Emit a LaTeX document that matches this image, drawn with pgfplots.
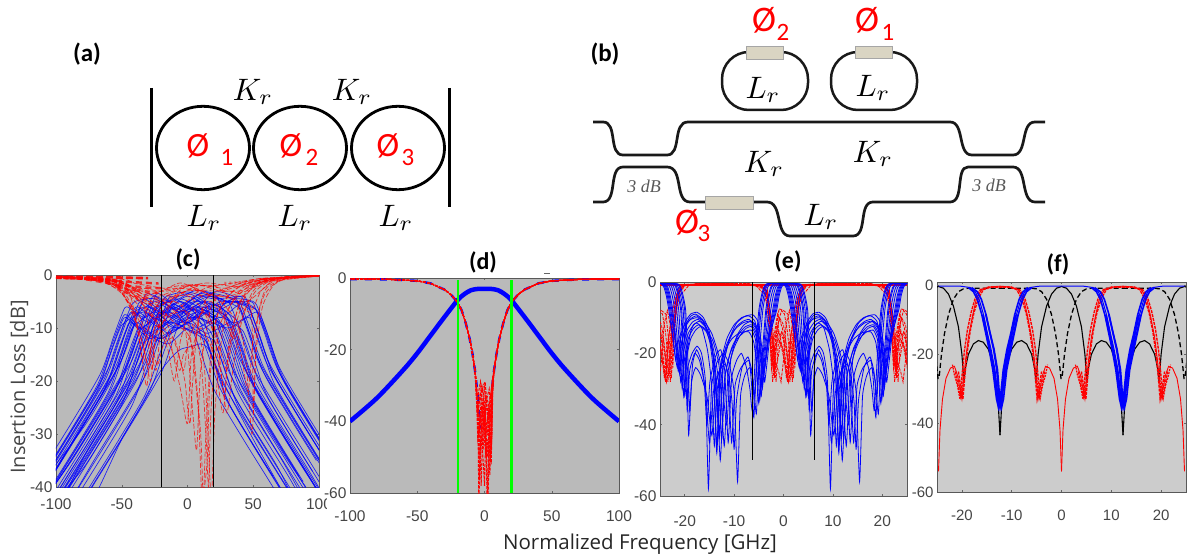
\documentclass[border=0pt]{standalone}
\usepackage{fontspec}
\usepackage{pgfplots}
\pgfplotsset{compat=1.18}
\setmainfont{Liberation Sans}
\newfontfamily\lab{Carlito}
\newfontfamily\seg{Open Sans}
\newfontfamily\sr{Liberation Serif}
\definecolor{heater}{HTML}{DAD5C3}
\definecolor{tk}{HTML}{454545}
\pgfplotsset{panel/.style={scale only axis,anchor=south west,
  axis background/.style={fill=#1},grid=major,
  grid style={draw=black!38!#1,line width=.8pt},
  axis line style={draw=black!65,line width=.8pt},
  tick style={draw=black!60,line width=.5pt},major tick length=2pt,tick align=inside,
  /pgf/number format/assume math mode=true,
  tick label style={font=\fontsize{15.5}{16}\selectfont,text=tk},
  xticklabel style={yshift=-8pt}}}
\newcommand\cbl[1]{\addplot[blue,line width=.65pt,opacity=.85,smooth,tension=.45] coordinates{#1};}
\newcommand\crd[1]{\addplot[red,line width=.7pt,opacity=.75,dash pattern=on 5pt off 2pt,smooth,tension=.4] coordinates{#1};}
\newcommand\dred[1]{\addplot[red,line width=1pt,dash pattern=on 3pt off 1.2pt] coordinates{(-105,-.2)(-70,-.4)(-50,-.8)(-40,-1.5)(-30,-3.2)(-25,-4.6)(-20,-6.8)(-17,-9)(-14,-12.5)(-11,-17)(-9,-21)(-7,-26)#1(7,-26)(9,-21)(11,-17)(14,-12.5)(17,-9)(20,-6.8)(25,-4.6)(30,-3.2)(40,-1.5)(50,-.8)(70,-.4)(105,-.2)};}
\newcommand\eb[1]{\addplot[blue,line width=.8pt,smooth,tension=.3] coordinates{#1};\addplot[blue,line width=.8pt,smooth,tension=.3,x filter/.expression={x+24.7}] coordinates{#1};}
\newcommand\er[1]{\addplot[red,line width=.85pt,dash pattern=on 3pt off 1.2pt,x filter/.expression={x-24.7}] coordinates{(-12.4,-.5)(-7,-.6)#1(7,-.6)(12.4,-.5)};\addplot[red,line width=.85pt,dash pattern=on 3pt off 1.2pt] coordinates{(-12.4,-.5)(-7,-.6)#1(7,-.6)(12.4,-.5)};\addplot[red,line width=.85pt,dash pattern=on 3pt off 1.2pt,x filter/.expression={x+24.7}] coordinates{(-12.4,-.5)(-7,-.6)#1(7,-.6)(12.4,-.5)};}
\newcommand\ftwo[2]{\addplot[#1] coordinates{#2};\addplot[#1,x filter/.expression={x-24.7}] coordinates{#2};}
\newcommand\fthree[2]{\addplot[#1,x filter/.expression={x-24.7}] coordinates{#2};\addplot[#1] coordinates{#2};\addplot[#1,x filter/.expression={x+24.7}] coordinates{#2};}
\newcommand\mm[1]{\scalebox{3.1}{$#1$}}
\begin{document}
\begin{tikzpicture}
\path[use as bounding box] (0pt,0pt) rectangle (1194pt,-559pt);
% ---------- (c)
\begin{axis}[panel=black!27,at={(56pt,-487pt)},width=263pt,height=212pt,xmin=-100,xmax=100,ymin=-40,ymax=0,
  xtick={-100,-50,0,50,100},ytick={0,-10,-20,-30,-40}]
\cbl{(-107,-37)(-87,-29)(-67,-20.5)(-57,-13.5)(-51,-9.5)(-47,-8)(-35,-10)(-20,-7)(-5,-9)(10,-6.5)(22,-8)(26,-9.5)(32,-13.5)(42,-20.5)(62,-29)(82,-37)(102,-45)}
\cbl{(-102,-36)(-82,-28)(-62,-19.5)(-52,-12.5)(-46,-8.5)(-42,-7)(-28,-9)(-12,-6)(5,-8)(18,-5.5)(30,-7)(34,-8.5)(40,-12.5)(50,-19.5)(70,-28)(90,-36)(102,-41)}
\cbl{(-108,-39)(-98,-35)(-78,-27)(-58,-18.5)(-48,-11.5)(-42,-7.5)(-38,-6)(-22,-8.5)(-5,-5)(15,-9)(30,-5)(45,-6)(49,-7.5)(55,-11.5)(65,-18.5)(85,-27)(105,-35)}
\cbl{(-105,-39)(-75,-26)(-55,-17.5)(-45,-10.5)(-39,-6.5)(-35,-5)(-20,-7)(0,-4)(20,-6.5)(35,-4.5)(50,-5)(54,-6.5)(60,-10.5)(70,-17.5)(90,-26)(110,-34)}
\cbl{(-112,-41.5)(-92,-33.5)(-72,-25.5)(-52,-17)(-42,-10)(-36,-6)(-32,-4.5)(-18,-7)(0,-5)(18,-3.5)(35,-4.5)(39,-6)(45,-10)(55,-17)(75,-25.5)(95,-33.5)(115,-41)}
\cbl{(-110,-43)(-90,-35.5)(-70,-27.5)(-50,-19)(-40,-12)(-34,-8)(-30,-6.5)(-15,-9)(5,-6)(25,-8)(40,-5.5)(52,-6.5)(56,-8)(62,-12)(72,-19)(92,-27.5)(112,-35.5)}
\cbl{(-108,-42)(-88,-35)(-68,-27)(-48,-18.5)(-38,-11.5)(-32,-7.5)(-28,-6)(-12,-8)(5,-5)(25,-6)(29,-7.5)(35,-11.5)(45,-18.5)(65,-27)(85,-35)(105,-43)}
\cbl{(-105,-41)(-85,-33)(-65,-25)(-45,-16.5)(-35,-9.5)(-29,-5.5)(-25,-4)(-8,-6.5)(10,-3.5)(28,-5)(40,-4)(44,-5.5)(50,-9.5)(60,-16.5)(80,-25)(100,-33)(120,-41)}
\cbl{(-102,-40)(-82,-32.5)(-62,-24.5)(-42,-16)(-32,-9)(-26,-5)(-22,-3.5)(-5,-6)(12,-3.2)(30,-5)(48,-5)(52,-6.5)(58,-10.5)(68,-17.5)(88,-26)(108,-34)}
\cbl{(-100,-42)(-80,-34)(-60,-26)(-40,-17.5)(-30,-10.5)(-24,-6.5)(-20,-5)(-5,-7)(12,-4)(30,-5)(34,-6.5)(40,-10.5)(50,-17.5)(70,-26)(90,-34)(105,-40)}
\cbl{(-98,-42)(-78,-36)(-58,-28)(-38,-19.5)(-28,-12.5)(-22,-8.5)(-18,-7)(0,-9)(18,-6.5)(35,-9)(52,-7)(56,-8.5)(62,-12.5)(72,-19.5)(92,-28)(112,-36)}
\cbl{(-95,-45)(-75,-37)(-55,-29)(-35,-20.5)(-25,-13.5)(-19,-9.5)(-15,-8)(3,-6.5)(20,-8)(24,-9.5)(30,-13.5)(40,-20.5)(60,-29)(80,-37)(90,-41)}
\cbl{(-92,-41)(-72,-33)(-52,-25)(-32,-16.5)(-22,-9.5)(-16,-5.5)(-12,-4)(5,-6.5)(20,-3.2)(35,-4)(39,-5.5)(45,-9.5)(55,-16.5)(75,-25)(95,-33)(105,-37)}
\cbl{(-90,-43)(-70,-34.5)(-50,-26.5)(-30,-18)(-20,-11)(-14,-7)(-10,-5.5)(8,-8)(25,-5)(44,-5.5)(48,-7)(54,-11)(64,-18)(84,-26.5)(104,-34.5)}
\cbl{(-88,-46)(-68,-38)(-48,-30)(-28,-21.5)(-18,-14.5)(-12,-10.5)(-8,-9)(8,-7)(25,-9)(29,-10.5)(35,-14.5)(45,-21.5)(65,-30)(85,-38)}
\cbl{(-116,-47)(-96,-39)(-76,-31)(-56,-22.5)(-46,-15.5)(-40,-11.5)(-36,-10)(-20,-12)(0,-8)(15,-10)(19,-11.5)(25,-15.5)(35,-22.5)(55,-31)(75,-39)(85,-43)}
\cbl{(-113,-48)(-93,-40)(-73,-32)(-53,-23.5)(-43,-16.5)(-37,-12.5)(-33,-11)(-15,-13)(0,-10)(10,-11)(14,-12.5)(20,-16.5)(30,-23.5)(50,-32)(70,-40)}
\cbl{(-106,-46)(-86,-38)(-66,-30)(-46,-21.5)(-36,-14.5)(-30,-10.5)(-26,-9)(-10,-6)(5,-9)(9,-10.5)(15,-14.5)(25,-21.5)(45,-30)(65,-38)}
\cbl{(-120,-46)(-100,-38.5)(-80,-30.5)(-60,-22)(-50,-15)(-44,-11)(-40,-9.5)(-25,-7)(-8,-10)(8,-8)(18,-9.5)(22,-11)(28,-15)(38,-22)(58,-30.5)(78,-38.5)(90,-44)}
\cbl{(-104,-36.5)(-84,-28.5)(-64,-20)(-54,-13)(-48,-9)(-44,-7.5)(-30,-6)(-12,-9)(8,-6)(28,-7.5)(32,-9)(38,-13)(48,-20)(68,-28.5)(88,-36.5)(100,-41)}
\cbl{(-80,-46)(-67,-40)(-50,-31)(-35,-24.5)(-23,-19)(-12,-15.5)(-5,-14)(3,-13.5)(10,-13)(16,-14)(25,-19)(35,-24)(50,-31)(68,-39)(80,-44)}
\cbl{(-96,-43)(-76,-33)(-56,-25)(-36,-16.5)(-26,-9.5)(-20,-5.5)(-16,-4)(0,-3.2)(20,-4.5)(42,-4)(46,-5.5)(52,-9.5)(62,-16.5)(82,-25)(102,-33)}
\cbl{(-104,-43)(-84,-35)(-64,-27)(-44,-18.5)(-34,-11.5)(-28,-7.5)(-24,-6)(-5,-4.5)(18,-7)(38,-5)(50,-6)(54,-7.5)(60,-11.5)(70,-18.5)(90,-27)(110,-35)}
\cbl{(-110,-49)(-90,-41)(-70,-33)(-50,-24.5)(-40,-17.5)(-34,-13.5)(-30,-12)(-12,-9)(12,-12)(16,-13.5)(22,-17.5)(32,-24.5)(52,-33)(72,-41)}
\cbl{(-80,-43)(-60,-35)(-40,-27)(-20,-18.5)(-10,-11.5)(-4,-7.5)(0,-6)(18,-4)(38,-6)(42,-7.5)(48,-11.5)(58,-18.5)(78,-27)(98,-35)}
\cbl{(-100,-44)(-80,-36)(-60,-28)(-40,-19.5)(-30,-12.5)(-24,-8.5)(-20,-7)(-6,-5)(8,-7)(12,-8.5)(18,-12.5)(28,-19.5)(48,-28)(68,-36)(80,-42)}
\cbl{(-108,-37)(-88,-29)(-68,-20.5)(-58,-13.5)(-52,-9.5)(-48,-7.5)(-44,-8)(-30,-11)(-10,-8)(15,-5)(35,-8)(39,-9.5)(45,-13.5)(55,-20.5)(75,-29)(95,-37)}
\cbl{(-110,-43)(-98,-38)(-78,-30)(-58,-21.5)(-48,-14.5)(-42,-10.5)(-38,-9)(-20,-12)(0,-9)(15,-11)(32,-9)(36,-10.5)(42,-14.5)(52,-21.5)(72,-30)(92,-38)(102,-42)}
\cbl{(-106,-35)(-86,-27)(-66,-18.5)(-56,-11.5)(-50,-7.5)(-46,-6)(-32,-8)(-15,-5)(0,-9)(12,-6)(16,-7.5)(22,-11.5)(32,-18.5)(52,-27)(72,-35)(90,-43)}
\cbl{(-103,-38)(-83,-30)(-63,-21.5)(-53,-14.5)(-47,-10.5)(-43,-9)(-28,-12)(-10,-9)(5,-11)(20,-9)(24,-10.5)(30,-14.5)(40,-21.5)(60,-30)(80,-38)(90,-42)}
\cbl{(-110,-38)(-100,-34)(-80,-26)(-60,-17.5)(-50,-10.5)(-44,-6.5)(-40,-5)(-25,-4.5)(-5,-7)(15,-6)(38,-5)(42,-6.5)(48,-10.5)(58,-17.5)(78,-26)(98,-34)(110,-39)}
\cbl{(-107,-38)(-77,-28)(-57,-19.5)(-47,-12.5)(-41,-8.5)(-37,-7)(-20,-10)(-5,-6)(5,-7)(9,-8.5)(15,-12.5)(25,-19.5)(45,-28)(65,-36)(80,-42)}
\cbl{(-114,-47)(-94,-39)(-74,-31)(-54,-22.5)(-44,-15.5)(-38,-11.5)(-34,-10)(-15,-7)(5,-10)(25,-8)(40,-10)(44,-11.5)(50,-15.5)(60,-22.5)(80,-31)(100,-39)}
\cbl{(-110,-40.5)(-90,-32.5)(-70,-24.5)(-50,-16)(-40,-9)(-34,-5)(-30,-3.5)(-12,-5)(5,-3)(20,-3.5)(24,-5)(30,-9)(40,-16)(60,-24.5)(80,-32.5)(100,-40.5)}
\cbl{(-106,-45)(-86,-37)(-66,-29)(-46,-20.5)(-36,-13.5)(-30,-9.5)(-26,-8)(-8,-10)(12,-7)(30,-10)(46,-8)(50,-9.5)(56,-13.5)(66,-20.5)(86,-29)(106,-37)}
\cbl{(-98,-42)(-78,-34.5)(-58,-26.5)(-38,-18)(-28,-11)(-22,-7)(-18,-5.5)(0,-3.5)(15,-5.5)(19,-7)(25,-11)(35,-18)(55,-26.5)(75,-34.5)(90,-40)}
\cbl{(-92,-47)(-72,-39)(-52,-31)(-32,-22.5)(-22,-15.5)(-16,-11.5)(-12,-10)(5,-8)(28,-10)(32,-11.5)(38,-15.5)(48,-22.5)(68,-31)(88,-39)}
\cbl{(-102,-49)(-82,-41)(-62,-33)(-42,-24.5)(-32,-17.5)(-26,-13.5)(-22,-12)(-5,-10)(18,-12)(22,-13.5)(28,-17.5)(38,-24.5)(58,-33)(78,-41)}
\cbl{(-108,-38)(-88,-30)(-68,-21.5)(-58,-14.5)(-52,-10.5)(-48,-9)(-32,-7)(-15,-11)(0,-9)(4,-10.5)(10,-14.5)(20,-21.5)(40,-30)(60,-38)(75,-44)}
\cbl{(-111,-44)(-101,-37)(-81,-29)(-61,-20.5)(-51,-13.5)(-45,-9.5)(-41,-8)(-24,-5)(-6,-8)(12,-5)(30,-8)(34,-9.5)(40,-13.5)(50,-20.5)(70,-29)(90,-37)(102,-42)}
\crd{(-105,-.2)(-75,-.6)(-60,-1.4)(-50,-3)(-44,-6)(-38,-10)(-33,-14)(-28,-20)(-25,-13)(-18,-7)(-5,-3.5)(10,-2)(25,-3)(40,-2)(55,-1)(70,-.5)(105,-.1)}
\crd{(-105,-.3)(-70,-.8)(-55,-2)(-47,-4.5)(-40,-8)(-35,-15)(-31,-21)(-27,-12)(-20,-6)(-8,-4)(6,-2.5)(22,-5)(35,-12)(40,-9)(50,-3)(65,-.9)(105,-.1)}
\crd{(-105,-.4)(-72,-.7)(-62,-1.2)(-52,-2.5)(-46,-5)(-38,-7)(-30,-12)(-24,-18)(-20,-10)(-10,-4)(2,-2)(15,-6)(25,-18)(30,-26)(35,-17)(42,-8)(52,-3)(68,-.7)(105,-.1)}
\crd{(-105,-.3)(-60,-1)(-45,-3)(-32,-5)(-18,-8)(-8,-14)(-2,-20)(0,-25)(2,-28)(4,-20)(8,-9)(16,-4)(30,-2.5)(50,-1)(105,-.1)}
\crd{(-105,-.2)(-58,-1.5)(-42,-4)(-28,-7)(-14,-13)(-6,-18)(-3,-15)(4,-14)(10,-30)(12,-42)(14,-30)(18,-14)(25,-6)(40,-2)(60,-.8)(105,-.1)}
\crd{(-105,-.3)(-65,-.9)(-48,-2.5)(-35,-4)(-25,-6)(-10,-5)(0,-8)(8,-25)(11,-42)(15,-35)(17,-20)(22,-8)(35,-3)(55,-1)(105,-.1)}
\crd{(-105,-.2)(-68,-.6)(-50,-1.8)(-36,-5)(-24,-9)(-15,-14)(-10,-20)(-5,-12)(5,-6)(13,-18)(18,-42)(21,-25)(28,-9)(45,-2)(105,-.1)}
\crd{(-105,-.2)(-50,-1.5)(-30,-3.5)(-10,-2.5)(10,-3)(25,-5)(38,-9)(44,-15)(49,-30)(52,-15)(57,-6)(66,-1.8)(80,-.4)(105,-.1)}
\crd{(-105,-.3)(-55,-1.2)(-38,-3)(-22,-6)(-10,-9)(0,-11)(5,-14)(9,-8)(18,-5)(30,-9)(40,-14)(46,-22)(50,-12)(58,-4)(72,-.8)(105,-.1)}
\crd{(-105,-.4)(-62,-.9)(-42,-2.5)(-33,-6)(-28,-12)(-23,-17)(-18,-13)(-10,-12)(-3,-18)(1,-12)(12,-7)(22,-11)(28,-23)(31,-15)(40,-5)(58,-1.5)(105,-.1)}
\crd{(-105,-.2)(-65,-.5)(-50,-1.2)(-40,-2.5)(-30,-3)(-15,-3)(0,-2)(20,-2)(35,-1.5)(55,-.7)(105,-.1)}
\crd{(-105,-.3)(-68,-1)(-52,-2.8)(-42,-4)(-30,-5.5)(-15,-4.5)(0,-3)(20,-3)(40,-3)(55,-1.4)(75,-.3)(105,-.1)}
\crd{(-105,-.5)(-60,-1.3)(-46,-3.5)(-36,-6)(-25,-8)(-10,-7)(5,-4)(25,-4)(45,-5)(58,-2.5)(70,-.7)(105,-.1)}
\crd{(-105,-.3)(-55,-.9)(-44,-2)(-35,-3.5)(-22,-4)(-5,-2.5)(15,-1.5)(35,-2.2)(50,-1.8)(68,-.6)(105,-.1)}
\crd{(-105,-.6)(-70,-1)(-58,-2)(-48,-4)(-38,-8)(-30,-13)(-27,-18)(-24,-11)(-15,-8)(0,-7)(10,-16)(14,-30)(16,-40)(18,-25)(24,-10)(38,-4)(55,-1.2)(105,-.1)}
\crd{(-105,-.4)(-66,-.7)(-54,-1.6)(-44,-5)(-36,-11)(-30,-17)(-25,-10)(-15,-11)(-5,-22)(0,-28)(3,-15)(10,-10)(20,-15)(27,-26)(32,-12)(45,-3)(70,-.5)(105,-.1)}
\crd{(-105,-.2)(-60,-.7)(-45,-2.2)(-30,-5)(-18,-5)(-2,-10)(4,-26)(7,-33)(10,-18)(18,-6)(30,-3)(48,-6)(50,-26)(53,-9)(60,-2.5)(80,-.3)(105,-.1)}
\crd{(-105,-.4)(-62,-.8)(-52,-1.6)(-44,-3)(-34,-2.5)(-20,-3)(-5,-1.5)(15,-3.5)(30,-4)(45,-3)(60,-1)(105,-.1)}
\crd{(-105,-.6)(-58,-.9)(-46,-2)(-38,-4.5)(-26,-3.5)(-12,-4)(5,-3.5)(20,-2)(36,-5)(48,-7)(56,-3)(70,-.5)(105,-.1)}
\crd{(-105,-.5)(-50,-.8)(-40,-1.6)(-30,-2)(-18,-2.5)(-6,-2)(8,-1.8)(28,-2.5)(42,-1.4)(58,-.6)(105,-.1)}
\crd{(-105,-.7)(-54,-1.1)(-44,-3.5)(-38,-10)(-34,-16)(-31,-11)(-24,-6)(-8,-3)(10,-6)(22,-12)(30,-18)(34,-12)(44,-4)(60,-1)(105,-.1)}
\addplot[red,line width=2.6pt,opacity=.9,dash pattern=on 7pt off 3pt] coordinates{(-100,-.35)(-65,-.4)(-30,-.6)};
\addplot[red,line width=2.4pt,opacity=.8,dash pattern=on 6pt off 4pt] coordinates{(-100,-.5)(-70,-.8)(-45,-1.3)(-22,-1.6)};
\addplot[red,line width=2.4pt,opacity=.75,dash pattern=on 6pt off 4pt] coordinates{(-77.2,-.8)(-52,-1.9)(-30,-2.4)(-20,-2.5)};
\addplot[red,line width=2.2pt,opacity=.7,dash pattern=on 5pt off 5pt] coordinates{(-62,-1.4)(-45,-2.8)(-22,-3.4)};
\addplot[red,line width=2.2pt,opacity=.6,dash pattern=on 5pt off 5pt] coordinates{(-54.4,-2.2)(-38,-4.2)(-20,-4.5)};
\addplot[red,line width=3pt,opacity=.45,dash pattern=on 2pt off 3pt] coordinates{(28,-1.6)(62,-1.2)};
\addplot[red,line width=1.3pt] coordinates{(55,-.8)(70,-.5)(100,-.2)};
\addplot[black,line width=1pt] coordinates{(-20,0)(-20,-40)};
\addplot[black,line width=1pt] coordinates{(20,0)(20,-40)};
\end{axis}
\fill[white] (327pt,-492pt) rectangle (335pt,-516pt);
% ---------- (d)
\begin{axis}[panel=black!27,at={(350pt,-493pt)},width=269pt,height=215pt,xmin=-100,xmax=100,ymin=-60,ymax=0,
  xtick={-100,-50,0,50,100},ytick={0,-20,-40,-60},xticklabel style={yshift=-6pt}]
\addplot[blue,line width=4.5pt,smooth] coordinates{(-100,-40)(-80,-33.5)(-60,-25.5)(-50,-21)(-40,-16)(-30,-11)(-20,-6.2)(-15,-4.5)(-10,-3.4)(-5,-3.05)(0,-3)(5,-3.05)(10,-3.4)(15,-4.5)(20,-6.2)(30,-11)(40,-16)(50,-21)(60,-25.5)(80,-33.5)(100,-40)};
\addplot[blue,line width=2.4pt,dash pattern=on 7pt off 8pt] coordinates{(-100,-.3)(-70,-.4)(-50,-.8)(-40,-1.5)(-30,-3.2)(-25,-4.6)(-20,-6.8)(-17,-9)(-14,-12.5)(-11,-17)(-9,-21)(-7,-26)(-5,-33)(-3,-42)};
\addplot[blue,line width=2.4pt,dash pattern=on 7pt off 8pt] coordinates{(100,-.3)(70,-.4)(50,-.8)(40,-1.5)(30,-3.2)(25,-4.6)(20,-6.8)(17,-9)(14,-12.5)(11,-17)(9,-21)(7,-26)(5,-33)};
\dred{(-6,-30)(-5,-36)(-4.2,-63)(-3,-45)(-1.5,-38)(0,-30)(1.5,-36)(3,-42)(4.5,-33)(6,-28)}
\dred{(-6,-32)(-4.5,-44)(-3,-38)(-1,-48)(.5,-36)(2,-63)(3.5,-44)(5,-34)(6,-28)}
\dred{(-5.5,-33)(-4,-42)(-2.5,-34)(-1,-30)(.5,-29)(2,-36)(3.5,-48)(5,-52)(6,-32)}
\dred{(-5.5,-35)(-4,-50)(-2,-44)(0,-58)(1,-42)(3,-38)(5,-40)(6,-30)}
\dred{(-6,-34)(-4.5,-38)(-3,-50)(-1.5,-42)(0,-36)(2,-44)(3.5,-36)(5,-48)(6,-30)}
\dred{(-6,-30)(-5,-40)(-3.5,-33)(-2,-30)(-.5,-33)(1,-40)(2.5,-63)(4,-42)(6,-30)}
\dred{(-5,-38)(-3.8,-56)(-2.5,-40)(-1,-34)(.5,-45)(2,-40)(4,-34)(6,-29)}
\dred{(-6,-31)(-4,-38)(-2.5,-58)(-1,-40)(1,-50)(2.5,-45)(4,-55)(5.5,-35)}
\dred{(-6,-29)(-5.5,-37)(-4.5,-32)(-3,-29)(-1.5,-35)(0,-40)(1.5,-34)(3.5,-31)(5,-38)(6,-30)}
\dred{(-6,-33)(-5,-45)(-3.5,-42)(-2,-36)(0,-42)(2,-50)(3.5,-42)(4.5,-46)(6,-31)}
\dred{(-6,-30)(-4.5,-36)(-3,-32)(-1,-42)(1,-33)(3,-35)(4.5,-50)(5.5,-45)(6.2,-30)}
\addplot[green,line width=2.2pt] coordinates{(-20,-.5)(-20,-60)};
\addplot[green,line width=2.2pt] coordinates{(20,-.5)(20,-60)};
\end{axis}
% ---------- (e)
\begin{axis}[panel=black!20,at={(660pt,-496pt)},width=247pt,height=214pt,xmin=-25,xmax=25,ymin=-60,ymax=0,
  xtick={-20,-10,0,10,20},ytick={0,-20,-40,-60},xticklabel style={yshift=-8pt}]
\addplot[red,line width=1.6pt] coordinates{(-25,-.9)(25,-.9)};
\er{(-4.5,-1)(-3.6,-2.2)(-3,-6)(-2.5,-13)(-2.1,-21)(-1.8,-27)(-1.5,-19)(-1,-11)(-.4,-8)(.2,-9)(.8,-14)(1.4,-22)(1.8,-28)(2.2,-17)(2.8,-7)(3.5,-2.4)(4.5,-1)}
\er{(-4,-1.3)(-3.2,-3)(-2.8,-8)(-2.3,-17)(-1.9,-26)(-1.4,-14)(-.8,-10)(0,-12)(.7,-19)(1.3,-28)(1.8,-18)(2.4,-10)(3,-4)(4,-1.2)}
\er{(-3.8,-2)(-3.2,-5)(-2.8,-12)(-2.4,-25)(-1.9,-15)(-1.2,-9)(-.2,-13)(.5,-24)(.9,-27)(1.4,-16)(2.2,-8.5)(3.2,-3)(4,-1)}
\er{(-4.2,-1.5)(-3.4,-3)(-2.7,-10)(-2.1,-18)(-1.5,-28)(-1.1,-18)(-.4,-14)(.4,-16)(1,-26)(1.5,-15)(2.3,-7)(3.4,-2)(4.5,-.7)}
\er{(-4.8,-1)(-3.7,-2.6)(-3,-8)(-2.4,-20)(-2,-25)(-1.5,-13)(-.9,-7.5)(0,-8)(.9,-9)(1.5,-17)(2,-27)(2.5,-15)(3,-6)(3.8,-1.8)(5,-.7)}
\er{(-4.6,-1)(-3.5,-3.2)(-2.9,-11)(-2.5,-22)(-2.2,-28)(-1.7,-21)(-1,-14)(0,-16)(1,-22)(1.5,-26)(1.9,-20)(2.6,-10)(3.6,-3)(4.8,-1)}
\er{(-5.5,-1)(-4.6,-2.5)(-3.8,-3.5)(-3.3,-7)(-2.8,-15)(-2.3,-24)(-1.9,-16)(-1.2,-12)(0,-20)(.6,-27)(1.1,-18)(1.9,-12)(2.5,-16)(2.9,-9)(3.6,-4)(4.6,-2.5)(5.5,-1)}
\er{(-5,-1)(-3.9,-2)(-3.2,-4)(-2.9,-9)(-2.6,-16)(-2.2,-23)(-1.8,-18)(-1,-16)(-.3,-19)(.3,-23)(.8,-28)(1.2,-20)(2,-14)(2.7,-12)(3.2,-5)(4,-1.5)(5,-.8)}
\er{(-4.4,-1.3)(-3.4,-2.5)(-3,-5)(-2.6,-10)(-2.1,-14)(-1.6,-24)(-1.2,-22)(-.6,-17)(.2,-20)(1,-28)(1.6,-23)(2.2,-13)(2.9,-8)(3.5,-3)(4.4,-1)}
\er{(-4,-1)(-3.3,-2)(-2.9,-7)(-2.5,-11)(-2,-20)(-1.6,-23)(-1,-25)(-.5,-28)(0,-22)(.5,-12)(1.2,-8)(1.9,-13)(2.3,-24)(2.7,-12)(3.3,-4)(4.2,-1)}
\eb{(-25.5,-.4)(-24.8,-.5)(-24.2,-1.5)(-23.7,-4)(-23.2,-8)(-22.4,-16)(-21.5,-24)(-21,-17)(-20,-11.5)(-18.8,-9)(-17.5,-8.5)(-16.2,-10)(-15,-14)(-14.2,-22)(-13.5,-46)(-12.8,-24)(-11.5,-16)(-10,-12)(-8.5,-10)(-7,-9.5)(-5.8,-11)(-5,-16)(-4.5,-22)(-4.2,-28)(-3,-16)(-1.4,-8)(-.9,-4)(-.4,-1.5)(.2,-.5)(1.6,-.4)}
\eb{(-25.5,-.4)(-24.4,-.5)(-23.8,-1.5)(-23.3,-4)(-22.8,-8)(-22,-16)(-21.3,-25)(-20.8,-18)(-19.8,-12.5)(-18.7,-10.2)(-17.6,-9.5)(-16.3,-11)(-15,-15)(-14,-23)(-13,-42)(-12.3,-24)(-11,-16.5)(-9.5,-12.5)(-8.2,-11)(-7,-10.5)(-5.8,-12)(-5,-16)(-4.4,-22)(-4,-26)(-3,-16)(-1.8,-8)(-1.3,-4)(-.8,-1.5)(-.2,-.5)(1.2,-.4)}
\eb{(-25.5,-.4)(-24,-.5)(-23.4,-1.5)(-22.9,-4)(-22.4,-8)(-21.7,-17)(-21,-26)(-20.5,-19)(-19.5,-13.5)(-18.4,-11.2)(-17.3,-10.5)(-16,-12)(-14.9,-17)(-14.2,-25)(-13.5,-48)(-12.8,-25)(-11.5,-17.5)(-10,-13.5)(-8.3,-11.5)(-6.8,-11)(-5.6,-13)(-5,-17)(-4.6,-23)(-4.3,-30)(-3.3,-17)(-2.2,-8)(-1.7,-4)(-1.2,-1.5)(-.6,-.5)(.8,-.4)}
\eb{(-25.5,-.4)(-23.6,-.5)(-23,-1.5)(-22.5,-4)(-22,-8)(-21.4,-18)(-20.8,-28)(-20.3,-20)(-19.3,-14.5)(-18.2,-12)(-17,-11)(-15.6,-13)(-14.4,-17.5)(-13.3,-26)(-12.5,-44)(-11.8,-26)(-10.5,-18.5)(-9,-14.5)(-7.8,-12.6)(-6.5,-12)(-5.6,-14)(-5.1,-19)(-4.8,-25)(-4.5,-32)(-3.6,-18)(-2.6,-8)(-2.1,-4)(-1.6,-1.5)(-1,-.5)(.4,-.4)}
\eb{(-25.5,-.4)(-23.2,-.5)(-22.6,-1.5)(-22.1,-4)(-21.6,-8)(-21,-19)(-20.5,-30)(-20,-21)(-19.2,-15.5)(-18.2,-13)(-17.2,-12)(-15.8,-13.2)(-14.3,-16.5)(-13,-24)(-12,-46)(-11.2,-25)(-10,-18.5)(-8.8,-15)(-7.6,-13)(-6.5,-12.5)(-5.6,-15)(-5.1,-20)(-4.6,-30)(-3.8,-18)(-3,-8)(-2.5,-4)(-2,-1.5)(-1.4,-.5)(0,-.4)}
\eb{(-25.5,-.4)(-22.8,-.5)(-22.2,-1.5)(-21.7,-4)(-21.2,-8)(-20.7,-20)(-20.2,-32)(-19.7,-22)(-18.8,-16)(-17.8,-13.5)(-16.8,-12.5)(-15.6,-14)(-14.6,-18)(-13.6,-27)(-12.8,-50)(-12,-28)(-10.8,-20)(-9.4,-16)(-7.9,-14)(-6.5,-13.5)(-5.7,-16)(-5.2,-22)(-4.8,-33)(-4.1,-20)(-3.4,-8)(-2.9,-4)(-2.4,-1.5)(-1.8,-.5)(-.4,-.4)}
\eb{(-25.5,-.4)(-24.6,-.5)(-24,-1.5)(-23.5,-4)(-23,-8)(-22.4,-15)(-21.8,-22)(-21.2,-16)(-20,-12)(-18.8,-10.5)(-17.5,-10)(-16,-11.2)(-14.5,-14.5)(-12.9,-22)(-11.5,-40)(-10.7,-22)(-9.4,-15)(-8,-12)(-6.5,-11)(-5.4,-12.5)(-4.7,-17)(-4,-25)(-3,-15)(-2,-8)(-1.5,-4)(-1,-1.5)(-.4,-.5)(1,-.4)}
\eb{(-25.5,-.4)(-22.4,-.5)(-21.8,-1.5)(-21.3,-4)(-20.8,-8)(-20.4,-18)(-20,-30)(-19.5,-20)(-18.8,-14)(-18.2,-12)(-17.5,-11.5)(-16.5,-13)(-15.4,-19)(-14.6,-28)(-14,-46)(-13.4,-30)(-12,-20)(-10.5,-16)(-8.8,-14.2)(-7,-14)(-6,-17)(-5.4,-24)(-5,-34)(-4.3,-20)(-3.6,-8)(-3.1,-4)(-2.6,-1.5)(-2,-.5)(-.6,-.4)}
\eb{(-25.5,-.4)(-22.2,-.5)(-21.6,-1.5)(-21.1,-4)(-20.6,-8)(-20.3,-18)(-20,-32)(-19.4,-24)(-18.5,-20)(-17.5,-18)(-16.6,-20)(-15.8,-28)(-15.2,-58)(-14.6,-30)(-13.6,-23)(-12.2,-20)(-11,-23)(-10,-31)(-9.3,-56)(-8.7,-32)(-7.8,-26)(-6.8,-24)(-6.1,-28)(-5.5,-37)(-4.9,-20)(-4.2,-8)(-3.7,-4)(-3.2,-1.5)(-2.6,-.5)(-1.2,-.4)}
\eb{(-25.5,-.4)(-21.9,-.5)(-21.3,-1.5)(-20.8,-4)(-20.3,-8)(-19.9,-20)(-19.5,-36)(-19,-25)(-18,-20)(-17,-22)(-15.8,-30)(-15,-45)(-14.2,-31)(-13,-25)(-11.8,-23)(-11,-27)(-10.4,-34)(-10,-47)(-9.5,-33)(-8.4,-24)(-7.2,-21)(-6.4,-25)(-5.8,-32)(-5.2,-18)(-4.5,-8)(-4,-4)(-3.5,-1.5)(-2.9,-.5)(-1.5,-.4)}
\eb{(-25.5,-.4)(-21.6,-.5)(-21,-1.5)(-20.5,-4)(-20,-8)(-19.6,-22)(-19.2,-43)(-18.6,-28)(-17.8,-24)(-16.8,-26)(-15.5,-32)(-14.5,-43)(-13.7,-29)(-12.8,-24)(-12,-22)(-11.2,-27)(-10.5,-45)(-9.8,-29)(-8.6,-24)(-7,-22)(-6.5,-28)(-6,-38)(-5.4,-20)(-4.8,-8)(-4.3,-4)(-3.8,-1.5)(-3.2,-.5)(-1.8,-.4)}
\eb{(-25.5,-.4)(-21.4,-.5)(-20.8,-1.5)(-20.3,-4)(-19.8,-8)(-19.4,-20)(-19,-36)(-18.4,-23)(-17.6,-19)(-16.7,-22)(-16,-29)(-15.5,-40)(-14.9,-28)(-13.8,-21)(-12.7,-19)(-11.9,-25)(-11.2,-45)(-10.5,-27)(-9.5,-22)(-8.5,-20)(-7.5,-24)(-6.8,-30)(-6.3,-36)(-5.6,-18)(-5,-8)(-4.5,-4)(-4,-1.5)(-3.4,-.5)(-2,-.4)}
\eb{(-25.5,-.4)(-24.2,-.5)(-23.6,-1.5)(-23.1,-4)(-22.6,-8)(-21.9,-16)(-21.2,-24)(-20.6,-17)(-19.6,-11.5)(-18.7,-9.5)(-17.8,-9)(-16.4,-10.5)(-15,-15)(-14,-23)(-13,-44)(-12.2,-24)(-11,-16)(-9.5,-11.5)(-7.8,-9.6)(-6.2,-9.2)(-5.2,-11)(-4.6,-16)(-4.2,-21)(-3.8,-28)(-2.8,-16)(-1.6,-8)(-1.1,-4)(-.6,-1.5)(0,-.5)(1.4,-.4)}
\addplot[black,line width=.9pt] coordinates{(-6.2,0)(-6.2,-50)};
\addplot[black,line width=.9pt] coordinates{(6.2,0)(6.2,-50)};
\end{axis}
% ---------- (f)
\begin{axis}[panel=black!20,at={(937pt,-492pt)},width=249pt,height=210pt,xmin=-25,xmax=25,ymin=-60,ymax=1,
  xtick={-20,-10,0,10,20},ytick={0,-20,-40,-60},
  tick label style={font=\fontsize{15}{16}\selectfont,text=tk},xticklabel style={yshift=-6pt}]
\fthree{black,line width=1.3pt,dash pattern=on 5pt off 3pt}{(-12.4,-.8)(-6,-.8)(-5,-1)(-4,-1.8)(-3,-4)(-2,-8.5)(-1.2,-14)(-.6,-20)(-.1,-27)(.1,-27)(.6,-20)(1.2,-14)(2,-8.5)(3,-4)(4,-1.8)(5,-1)(6,-.8)(12.4,-.8)}
\fthree{black,line width=1.1pt}{(-12.35,-43.5)(-11.9,-32)(-11,-23)(-10,-18.5)(-9,-16.5)(-8,-16)(-7,-17)(-6,-20)(-5.4,-24)(-5.1,-28)(-4.7,-20)(-4,-12)(-3,-6)(-2,-2.5)(-1,-.8)(0,-.3)(1,-.8)(2,-2.5)(3,-6)(4,-12)(4.7,-20)(5.1,-28)(5.4,-24)(6,-20)(7,-17)(8,-16)(9,-16.5)(10,-18.5)(11,-23)(11.9,-32)(12.35,-43.5)}
\ftwo{red,line width=.9pt}{(0,-54)(.3,-42)(.8,-33)(1.5,-27)(2.4,-24)(3.2,-23.5)(3.8,-26)(4.3,-30)(4.7,-33)(5,-28)(5.4,-22)(6,-15)(6.8,-9)(7.5,-4.5)(8.5,-1.5)(10,-.5)(12.35,-.2)(14.7,-.5)(16.2,-1.5)(17.2,-4.5)(17.9,-9)(18.7,-15)(19.3,-22)(19.7,-28)(20,-33)(20.4,-30)(20.9,-26)(21.5,-23.5)(22.3,-24)(23.2,-27)(23.9,-33)(24.4,-42)(24.7,-54)}
\ftwo{red,line width=1.4pt,dash pattern=on 3pt off 1pt}{(4,-25)(4.5,-30)(4.9,-33)(5.3,-26)(5.8,-19)(6.4,-13)(7.1,-8)(8,-3.8)(9,-1.2)(10.5,-.5)(14.2,-.5)(15.7,-1.2)(16.7,-3.8)(17.6,-8)(18.3,-13)(18.9,-19)(19.4,-26)(19.8,-33)(20.2,-30)(20.7,-25)}
\ftwo{red,line width=1.4pt,dash pattern=on 3pt off 1pt}{(3.4,-25)(3.9,-29)(4.4,-32)(4.8,-25)(5.2,-19)(5.8,-13)(6.6,-7.5)(7.4,-3.6)(8.4,-1.2)(10,-.5)(14.7,-.5)(16.3,-1.2)(17.3,-3.6)(18.1,-7.5)(18.9,-13)(19.5,-19)(19.9,-25)(20.3,-32)(20.8,-29)(21.3,-25)}
\ftwo{red,line width=1.2pt,dash pattern=on 2pt off 1pt}{(2.8,-23)(3.2,-26)(3.8,-29)(4.3,-33)(4.8,-30)(5.1,-24)}
\ftwo{red,line width=1.2pt,dash pattern=on 2pt off 1pt}{(19.6,-24)(19.9,-30)(20.4,-33)(20.9,-29)(21.5,-26)(21.9,-23)}
\ftwo{blue,line width=1pt}{(0,-.2)(4.35,-.2)(6.35,-.6)(7.35,-1.8)(8.15,-4)(9.05,-8.5)(9.85,-14)(10.55,-18.5)(11.35,-24.5)(11.95,-32)(12.35,-36)(12.75,-32)(13.35,-24.5)(14.15,-18.5)(14.85,-14)(15.65,-8.5)(16.55,-4)(17.35,-1.8)(18.35,-.6)(20.35,-.2)(24.7,-.2)}
\ftwo{blue,line width=1.6pt}{(6.65,-.6)(7.75,-1.8)(8.6,-4)(9.55,-8.5)(10.4,-14)(11.15,-18.5)(11.85,-24.5)(12.3,-33)(12.65,-35.5)(13.05,-33)(13.7,-24.5)(14.55,-18.5)(15.2,-14)(16,-8.5)(16.9,-4)(17.7,-1.8)(18.75,-.6)}
\ftwo{blue,line width=1.6pt}{(6,-.6)(7,-1.8)(7.8,-4)(8.7,-8.5)(9.5,-14)(10.15,-18.5)(10.9,-24.5)(11.65,-33)(12.05,-35.5)(12.4,-33)(13,-24.5)(13.75,-18.5)(14.5,-14)(15.3,-8.5)(16.2,-4)(17,-1.8)(17.95,-.6)}
\ftwo{blue,line width=1.6pt}{(9.5,-8.5)(10.35,-14)(11.05,-18.5)(11.7,-24.5)(12.15,-33)(12.4,-35)(12.7,-33)(13.45,-24.5)(14.3,-18.5)(15.1,-14)(15.9,-8.5)}
\ftwo{blue,line width=1.6pt}{(8.9,-8.5)(9.7,-14)(10.35,-18.5)(11.15,-24.5)(11.85,-33)(12.3,-35)(12.55,-33)(13.2,-24.5)(13.95,-18.5)(14.7,-14)(15.5,-8.5)}
\end{axis}
% ---------- drawings in pixel coordinates
\begin{scope}[x=1pt,y=-1pt]
\node[font=\lab\bfseries\fontsize{24}{24}\selectfont] at (188,259) {(c)};
\node[font=\lab\bfseries\fontsize{24}{24}\selectfont] at (483,262) {(d)};
\node[font=\lab\bfseries\fontsize{24}{24}\selectfont] at (788,261) {(e)};
\node[font=\lab\bfseries\fontsize{24}{24}\selectfont] at (1058,264) {(f)};
\draw[black!60,line width=.8] (544,273) -- (550,273);
\node[rotate=90,text=tk,font=\seg\fontsize{20}{20}\selectfont] at (19,387) {Insertion Loss [dB]};
\node[text=black!85,font=\seg\fontsize{20.5}{21}\selectfont] at (640,544) {Normalized Frequency [GHz]};
% (a)
\node[font=\lab\bfseries\fontsize{25}{25}\selectfont] at (87,54) {(a)};
\draw[line width=3] (151,88) -- (151,207);
\draw[line width=3] (449,88) -- (449,207);
\draw[line width=2.8] (203,148) ellipse [x radius=46.5,y radius=41.7];
\draw[line width=2.8] (300,148) ellipse [x radius=46.5,y radius=41.7];
\draw[line width=2.8] (398,148) ellipse [x radius=46.5,y radius=41.7];
\foreach \x in {253,352} \node at (\x,92) {\mm{K_r}};
\foreach \x in {204,295,396} \node at (\x,218) {\mm{L_r}};
\node[text=red,font=\lab\fontsize{34}{34}\selectfont] at (198,146) {Ø};
\node[text=red,font=\lab\fontsize{25}{25}\selectfont] at (227,157) {1};
\node[text=red,font=\lab\fontsize{34}{34}\selectfont] at (291,146) {Ø};
\node[text=red,font=\lab\fontsize{25}{25}\selectfont] at (312,157) {2};
\node[text=red,font=\lab\fontsize{34}{34}\selectfont] at (388,146) {Ø};
\node[text=red,font=\lab\fontsize{25}{25}\selectfont] at (408,157) {3};
% (b)
\node[font=\lab\bfseries\fontsize{25}{25}\selectfont] at (605,54) {(b)};
\draw[line width=2.5,black!90,rounded corners=27] (722,52) rectangle (808,110);
\draw[line width=2.5,black!90,rounded corners=27] (831,52) rectangle (917,110);
\draw[line width=2.7,black!90] (593,122) -- (603,122) .. controls (618,122) and (608,155) .. (623,155) -- (667,155) .. controls (682,155) and (672,122) .. (688,122) -- (950,122) .. controls (965,122) and (957,155) .. (972,155) -- (1013,155) .. controls (1028,155) and (1020,122) .. (1035,122) -- (1045,122);
\draw[line width=2.7,black!90] (593,202) -- (603,202) .. controls (618,202) and (608,167) .. (623,167) -- (667,167) .. controls (684,167) and (674,202) .. (690,202) -- (767,202) .. controls (783,202) and (775,236) .. (790,236) -- (853,236) .. controls (868,236) and (858,202) .. (873,202) -- (950,202) .. controls (965,202) and (955,167) .. (968,167) -- (1013,167) .. controls (1028,167) and (1020,202) .. (1035,202) -- (1045,202);
\draw[fill=heater,draw=black!35,line width=.7] (746,46) rectangle (783,59);
\draw[fill=heater,draw=black!35,line width=.7] (855,46) rectangle (892,58);
\draw[fill=heater,draw=black!35,line width=.7] (705,196) rectangle (753,209);
\node at (763,90) {\mm{L_r}};
\node at (873,88) {\mm{L_r}};
\node at (764,164) {\mm{K_r}};
\node at (873,154) {\mm{K_r}};
\node at (821,217) {\mm{L_r}};
\node[text=red,font=\lab\fontsize{36}{36}\selectfont] at (764,20) {Ø};
\node[text=red,font=\lab\fontsize{25}{25}\selectfont] at (783,32) {2};
\node[text=red,font=\lab\fontsize{36}{36}\selectfont] at (867,20) {Ø};
\node[text=red,font=\lab\fontsize{25}{25}\selectfont] at (888,32) {1};
\node[text=red,font=\lab\fontsize{36}{36}\selectfont] at (687,222) {Ø};
\node[text=red,font=\lab\fontsize{25}{25}\selectfont] at (704,233) {3};
\node[text=black!65,font=\sr\itshape\fontsize{18}{18}\selectfont] at (644,186) {3 dB};
\node[text=black!65,font=\sr\itshape\fontsize{18}{18}\selectfont] at (989,185) {3 dB};
\end{scope}
\end{tikzpicture}
\end{document}
